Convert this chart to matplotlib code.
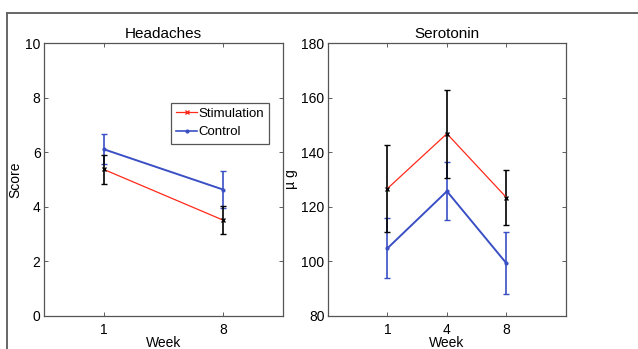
import matplotlib
matplotlib.use("Agg")
import matplotlib.pyplot as plt
from matplotlib.lines import Line2D

plt.rcParams['font.family'] = ['Liberation Sans', 'DejaVu Sans']

# Headaches data
head_weeks = ['1', '8']
head_stim = [5.37, 3.51]
head_stim_err = [0.52, 0.52]
head_ctrl = [6.11, 4.63]
head_ctrl_err = [0.55, 0.69]

# Serotonin data
sero_weeks = ['1', '4', '8']
sero_stim = [126.7, 146.8, 123.4]
sero_stim_err = [16.0, 16.1, 10.0]
sero_ctrl = [104.8, 125.7, 99.3]
sero_ctrl_err = [11.0, 10.6, 11.3]

RED = '#ff2a1a'
BLUE = '#3a4fc4'

fig = plt.figure(figsize=(6.38, 3.49), dpi=100)
ax1 = fig.add_axes([0.069, 0.0946, 0.3746, 0.782])
ax2 = fig.add_axes([0.514, 0.0946, 0.373, 0.782])


def style(ax):
    ax.tick_params(direction='in', length=3, width=0.6, top=True, right=True,
                   labelsize=10, color='#444444')
    ax.tick_params(axis='y', pad=2.5)
    ax.tick_params(axis='x', pad=5)
    for s in ax.spines.values():
        s.set_linewidth(0.9)
        s.set_color('#555555')


# Left panel
x1 = list(range(1, len(head_weeks) + 1))
ax1.errorbar(x1, head_ctrl, yerr=head_ctrl_err, color=BLUE, ecolor=BLUE,
             lw=1.4, elinewidth=1.2, capsize=2, marker='.', ms=4, label='Control')
ax1.errorbar(x1, head_stim, yerr=head_stim_err, color=RED, ecolor='black',
             lw=0.9, elinewidth=1.2, capsize=2, marker='x', ms=2.5, mec='black',
             label='Stimulation')
ax1.set_xlim(0.5, len(head_weeks) + 0.5)
ax1.set_ylim(0, 10)
ax1.set_xticks(x1)
ax1.set_xticklabels(head_weeks)
ax1.set_yticks([0, 2, 4, 6, 8, 10])
ax1.set_title('Headaches', fontsize=11, pad=4)
ax1.set_xlabel('Week', fontsize=10, labelpad=-1)
ax1.set_ylabel('Score', fontsize=10, labelpad=2)
style(ax1)

leg_handles = [Line2D([], [], color=RED, lw=0.9, marker='x', ms=2.5),
               Line2D([], [], color=BLUE, lw=1.2, marker='.', ms=4)]
leg = ax1.legend(leg_handles, ['Stimulation', 'Control'], loc='upper right',
                 bbox_to_anchor=(0.943, 0.782), fontsize=9.5, frameon=True,
                 fancybox=False, framealpha=1, edgecolor='#555555',
                 handlelength=1.6, handletextpad=0.1, borderpad=0.4,
                 labelspacing=0.45, borderaxespad=0)
leg.get_frame().set_linewidth(0.9)

# Right panel
x2 = list(range(1, len(sero_weeks) + 1))
ax2.errorbar(x2, sero_ctrl, yerr=sero_ctrl_err, color=BLUE, ecolor=BLUE,
             lw=1.4, elinewidth=1.2, capsize=2, marker='.', ms=4)
ax2.errorbar(x2, sero_stim, yerr=sero_stim_err, color=RED, ecolor='black',
             lw=0.9, elinewidth=1.2, capsize=2, marker='x', ms=2.5, mec='black')
ax2.set_xlim(0, len(sero_weeks) + 1)
ax2.set_ylim(80, 180)
ax2.set_xticks(x2)
ax2.set_xticklabels(sero_weeks)
ax2.set_yticks([80, 100, 120, 140, 160, 180])
ax2.set_title('Serotonin', fontsize=11, pad=4)
ax2.set_xlabel('Week', fontsize=10, labelpad=-1)
ax2.set_ylabel('µ g', fontsize=10, labelpad=2)
style(ax2)

# Outer frame lines
fig.add_artist(Line2D([7 / 638, 1.0], [1 - 13 / 349, 1 - 13 / 349],
                      transform=fig.transFigure, color='#666666', lw=1.4))
fig.add_artist(Line2D([7 / 638, 7 / 638], [0, 1 - 13 / 349],
                      transform=fig.transFigure, color='#666666', lw=1.4))

fig.savefig('out.png', dpi=100)
